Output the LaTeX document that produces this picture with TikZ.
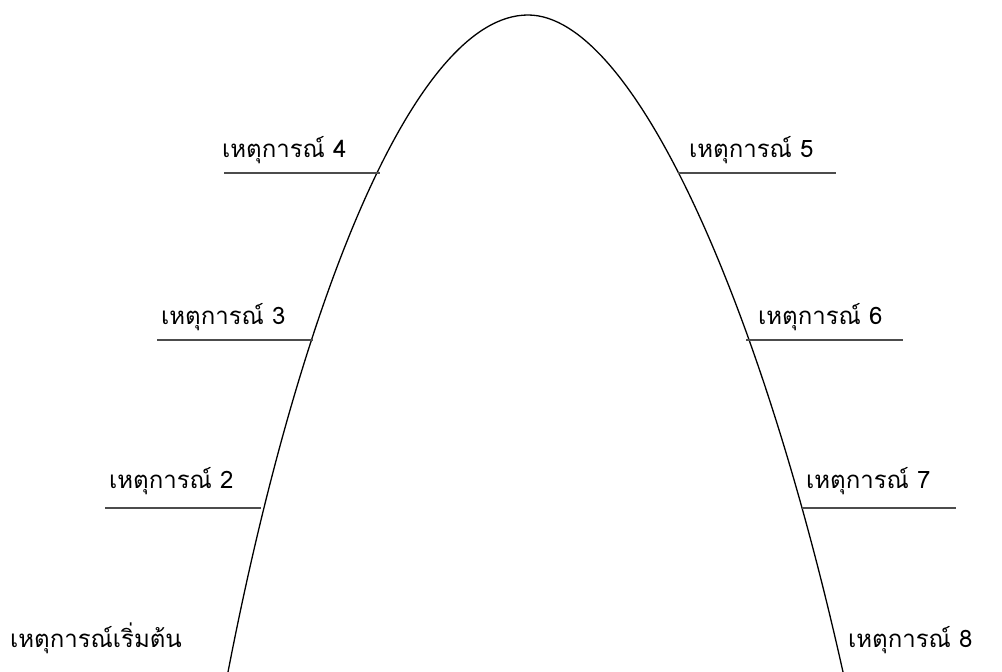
\documentclass[tikz,border=0pt]{standalone}
\usepackage{fontspec}
\newfontfamily\thaifont[Script=Thai]{Loma}
\tikzset{
  lbl/.style={font=\thaifont\fontsize{24}{28}\selectfont, inner sep=0pt, anchor=base west, text=black},
  rule/.style={draw=black!70, line width=1.4pt},
  arch/.style={draw=black, line width=1.3pt}
}
\begin{document}
\begin{tikzpicture}[x=1pt,y=-1pt]
\useasboundingbox (0,0) rectangle (1002,672);
% arch
\coordinate (bl) at (228,672);
\coordinate (top) at (528,15);
\coordinate (br) at (843,672);
\draw[arch] (bl) .. controls (300,300) and (415,15) .. (top)
                 .. controls (633,15) and (760,300) .. (br);
% points on the arch
\coordinate (p4) at (380,173);
\coordinate (p3) at (313,340);
\coordinate (p2) at (261,508);
\coordinate (p5) at (678,173);
\coordinate (p6) at (746,340);
\coordinate (p7) at (802,508);
% rules
\coordinate (q4) at (224,173);
\coordinate (q3) at (157,340);
\coordinate (q2) at (105,508);
\coordinate (q5) at (836,173);
\coordinate (q6) at (903,340);
\coordinate (q7) at (956,508);
\draw[rule] (q4) -- (p4);
\draw[rule] (q3) -- (p3);
\draw[rule] (q2) -- (p2);
\draw[rule] (p5) -- (q5);
\draw[rule] (p6) -- (q6);
\draw[rule] (p7) -- (q7);
% labels
\node[lbl] (t4) at (222,157) {เหตุการณ์ 4};
\node[lbl] (t3) at (161,324) {เหตุการณ์ 3};
\node[lbl] (t2) at (109,488) {เหตุการณ์ 2};
\node[lbl] (t1) at (10,647) {เหตุการณ์เริ่มต้น};
\node[lbl] (t5) at (689,157) {เหตุการณ์ 5};
\node[lbl] (t6) at (758,324) {เหตุการณ์ 6};
\node[lbl] (t7) at (806,488) {เหตุการณ์ 7};
\node[lbl] (t8) at (848,647) {เหตุการณ์ 8};
\end{tikzpicture}
\end{document}
